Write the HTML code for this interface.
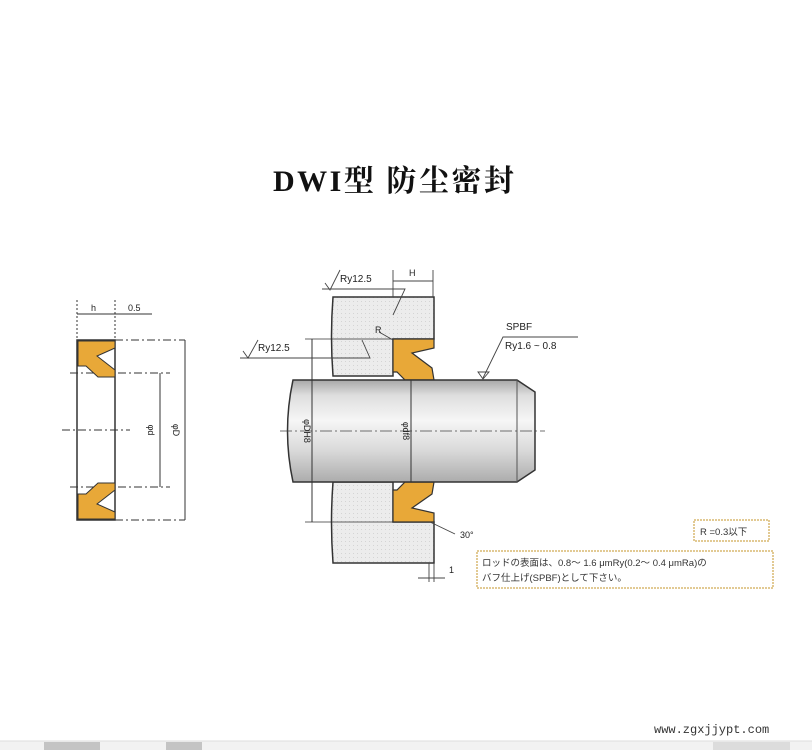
<!DOCTYPE html>
<html><head><meta charset="utf-8"><style>
html,body{margin:0;padding:0;background:#fff;}
body{width:812px;height:750px;position:relative;overflow:hidden;font-family:"Liberation Sans","Noto Sans CJK JP",sans-serif;}
</style></head><body>
<svg width="812" height="750" viewBox="0 0 812 750" xmlns="http://www.w3.org/2000/svg" style="position:absolute;left:0;top:0">
<defs>
<linearGradient id="rod" x1="0" y1="0" x2="0" y2="1">
<stop offset="0" stop-color="#a8a8a8"/><stop offset="0.15" stop-color="#dedede"/><stop offset="0.4" stop-color="#f6f6f6"/><stop offset="0.7" stop-color="#d8d8d8"/><stop offset="1" stop-color="#acacac"/>
</linearGradient>
<pattern id="dots" width="4" height="4" patternUnits="userSpaceOnUse"><rect width="4" height="4" fill="#ececec"/><rect x="1" y="1" width="1" height="1" fill="#d4d4d4"/></pattern>
</defs>
<text x="273" y="191" font-family="'Liberation Serif','Noto Serif CJK SC',serif" font-weight="bold" font-size="30" letter-spacing="2.5" fill="#111">DWI型 防尘密封</text>

<!-- Left section view -->
<g stroke="#333" fill="none" stroke-width="1">
<line x1="77" y1="300" x2="77" y2="520" stroke-dasharray="2,2"/>
<line x1="115" y1="300" x2="115" y2="340" stroke-dasharray="2,2"/>
<line x1="77" y1="314" x2="115" y2="314"/>
<line x1="115" y1="314" x2="152" y2="314"/>
<rect x="77" y="340" width="38" height="180" stroke-width="1.5"/>
<line x1="115" y1="340" x2="185" y2="340" stroke-dasharray="8,3,2,3"/>
<line x1="115" y1="520" x2="185" y2="520" stroke-dasharray="8,3,2,3"/>
<line x1="70" y1="373" x2="170" y2="373" stroke-dasharray="8,3,2,3"/>
<line x1="70" y1="487" x2="170" y2="487" stroke-dasharray="8,3,2,3"/>
<line x1="62" y1="430" x2="130" y2="430" stroke-dasharray="8,3,2,3"/>
<line x1="160" y1="373" x2="160" y2="487"/>
<line x1="185" y1="340" x2="185" y2="520"/>
</g>
<path d="M78,341 H115 V348 L97,356 L115,370 V377 L98,377 L86,366 L78,366 Z" fill="#e8a838" stroke="#333" stroke-width="1"/>
<path d="M78,519 H115 V512 L97,504 L115,490 V483 L98,483 L86,494 L78,494 Z" fill="#e8a838" stroke="#333" stroke-width="1"/>
<text x="91" y="311" font-size="9" fill="#222">h</text>
<text x="128" y="311" font-size="9" fill="#222">0.5</text>
<text x="148" y="430" font-size="9" fill="#222" transform="rotate(90 148 430)" text-anchor="middle">φd</text>
<text x="173" y="430" font-size="9" fill="#222" transform="rotate(90 173 430)" text-anchor="middle">φD</text>

<!-- Housing -->
<path d="M333,297 H434 V339 H393 V376 H333 Q330,336 333,297 Z" fill="url(#dots)" stroke="#333" stroke-width="1.5"/>
<path d="M333,482 H393 V522 H434 V563 H333 Q330,522 333,482 Z" fill="url(#dots)" stroke="#333" stroke-width="1.5"/>
<!-- seals -->
<path d="M393,339 H434 V348 L412,353 L432,368 L434,380 H405 L397,372 L393,372 Z" fill="#e8a838" stroke="#333" stroke-width="1.2"/>
<path d="M393,522 H434 V513 L412,508 L432,494 L434,482 H405 L397,490 L393,490 Z" fill="#e8a838" stroke="#333" stroke-width="1.2"/>
<!-- Rod -->
<path d="M293,380 H517 L535,392 V470 L517,482 H293 Q282,431 293,380 Z" fill="url(#rod)" stroke="#333" stroke-width="1.5"/>
<line x1="517" y1="380" x2="517" y2="482" stroke="#555" stroke-width="1"/>
<line x1="280" y1="431" x2="545" y2="431" stroke="#444" stroke-dasharray="12,3,2,3" stroke-width="0.8"/>
<line x1="312" y1="339" x2="312" y2="522" stroke="#333"/>
<line x1="305" y1="339" x2="393" y2="339" stroke="#333" stroke-width="0.8"/>
<line x1="305" y1="522" x2="393" y2="522" stroke="#333" stroke-width="0.8"/>
<line x1="411" y1="380" x2="411" y2="482" stroke="#333"/>
<text x="304" y="431" font-size="9" fill="#222" transform="rotate(90 304 431)" text-anchor="middle">φDH8</text>
<text x="403" y="431" font-size="9" fill="#222" transform="rotate(90 403 431)" text-anchor="middle">φdf8</text>

<!-- annotations -->
<g stroke="#444" fill="none" stroke-width="0.9">
<path d="M322,289 H405 L393,315"/>
<path d="M325,283 L330,290 L340,270"/>
<path d="M240,358 H370 L362,340"/>
<path d="M243,351 L248,358 L258,340"/>
<line x1="393" y1="270" x2="393" y2="297"/>
<line x1="433" y1="270" x2="433" y2="297"/>
<line x1="393" y1="281" x2="433" y2="281"/>
<path d="M578,337 H503 L483,378"/>
<path d="M478,372 L483,379 L489,372 Z"/>
<path d="M379,332 L393,340"/>
<path d="M430,522 L455,534"/>
<line x1="434" y1="563" x2="434" y2="582"/>
<line x1="429" y1="563" x2="429" y2="582"/>
<line x1="418" y1="578" x2="445" y2="578"/>
</g>
<text x="340" y="282" font-size="10" fill="#222">Ry12.5</text>
<text x="258" y="351" font-size="10" fill="#222">Ry12.5</text>
<text x="409" y="276" font-size="9" fill="#222">H</text>
<text x="375" y="333" font-size="9" fill="#222">R</text>
<text x="506" y="330" font-size="10" fill="#222">SPBF</text>
<text x="505" y="349" font-size="10" fill="#222">Ry1.6 ~ 0.8</text>
<text x="460" y="538" font-size="9" fill="#222">30°</text>
<text x="449" y="573" font-size="9" fill="#222">1</text>

<rect x="694" y="520" width="75" height="21" fill="#fff" stroke="#d8b870" stroke-width="1.5" stroke-dasharray="2,1"/>
<text x="700" y="535" font-size="9.5" fill="#333">R =0.3以下</text>
<rect x="477" y="551" width="296" height="37" fill="#fff" stroke="#d8b870" stroke-width="1.5" stroke-dasharray="2,1"/>
<text x="482" y="566" font-size="9.5" fill="#333">ロッドの表面は、0.8～ 1.6 μmRy(0.2～ 0.4 μmRa)の</text>
<text x="482" y="581" font-size="9.5" fill="#333">バフ仕上げ(SPBF)として下さい。</text>

<text x="654" y="733" font-family="'Liberation Mono',monospace" font-size="12" fill="#333">www.zgxjjypt.com</text>
<rect x="0" y="741" width="812" height="9" fill="#f2f2f2"/>
<line x1="0" y1="741" x2="812" y2="741" stroke="#ddd"/>
<rect x="44" y="742" width="56" height="8" fill="#c4c4c4"/>
<rect x="166" y="742" width="36" height="8" fill="#c4c4c4"/>
<rect x="713" y="742" width="77" height="8" fill="#dcdcdc"/>
</svg>
</body></html>
